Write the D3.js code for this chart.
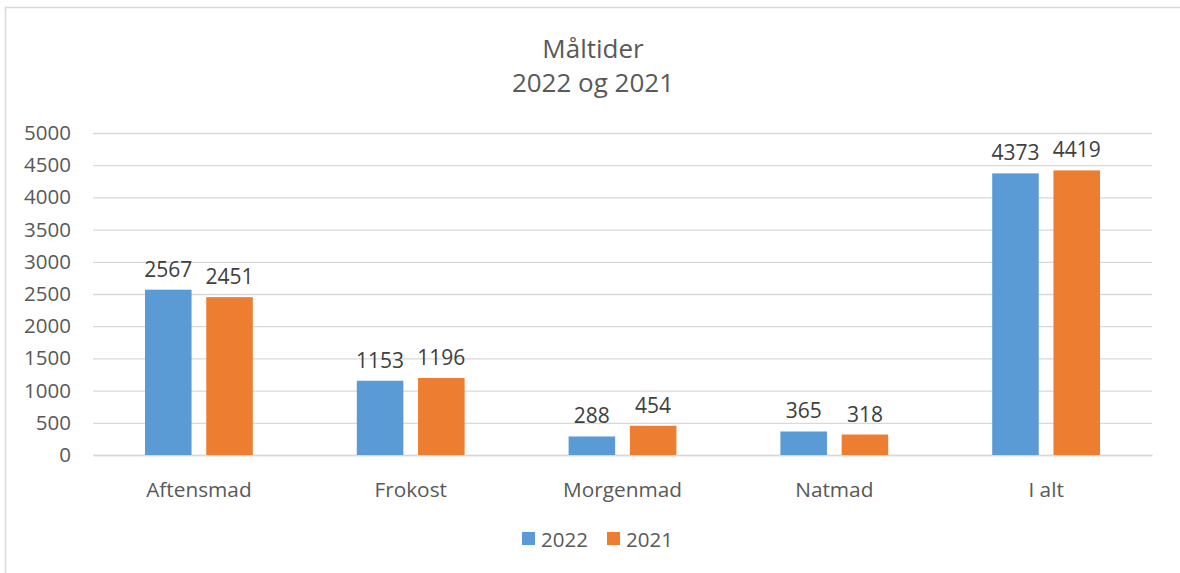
<!DOCTYPE html>
<html>
<head>
<meta charset="utf-8">
<script src="https://cdn.jsdelivr.net/npm/d3@7"></script>
<style>
  body { margin: 0; background: #fff; }
  text { font-family: "Open Sans", "Noto Sans", sans-serif; }
</style>
</head>
<body>
<div id="chart"></div>
<script>
// chart data
var categories = ["Aftensmad", "Frokost", "Morgenmad", "Natmad", "I alt"];
var seriesNames = ["2022", "2021"];
var values2022 = [2567, 1153, 288, 365, 4373];
var values2021 = [2451, 1196, 454, 318, 4419];
var yTicks = [0, 500, 1000, 1500, 2000, 2500, 3000, 3500, 4000, 4500, 5000];
var colors = ["#5b9bd5", "#ed7d31"];

var width = 1180, height = 573;
var plot = { left: 93, right: 1152, top: 133, bottom: 455 };

var svg = d3.select("#chart").append("svg")
    .attr("width", width)
    .attr("height", height);

// chart border
svg.append("rect")
    .attr("x", 5.5).attr("y", 7.5)
    .attr("width", width + 10).attr("height", height + 10)
    .attr("fill", "#fff")
    .attr("stroke", "#d9d9d9")
    .attr("stroke-width", 1.5);

// title
svg.append("text")
    .attr("x", 593).attr("y", 58)
    .attr("text-anchor", "middle")
    .attr("fill", "#595959")
    .attr("font-size", 26)
    .text("Måltider");
svg.append("text")
    .attr("x", 593).attr("y", 92)
    .attr("text-anchor", "middle")
    .attr("fill", "#595959")
    .attr("font-size", 26)
    .text("2022 og 2021");

var x = d3.scaleBand()
    .domain(categories)
    .range([plot.left, plot.right])
    .paddingInner(0)
    .paddingOuter(0);

var x1 = d3.scaleBand()
    .domain(seriesNames)
    .range([52, x.bandwidth() - 52])
    .paddingInner(0.24)
    .paddingOuter(0);

var y = d3.scaleLinear()
    .domain([0, 5000])
    .range([plot.bottom, plot.top]);

// gridlines and y tick labels
var yAxis = d3.axisLeft(y)
    .tickValues(yTicks)
    .tickFormat(d3.format("d"))
    .tickSize(-(plot.right - plot.left))
    .tickPadding(22);

var gy = svg.append("g")
    .attr("transform", "translate(" + plot.left + ",0)")
    .call(yAxis);
gy.select(".domain").remove();
gy.selectAll(".tick line").attr("stroke", "#d9d9d9").attr("stroke-width", 1.3);
gy.selectAll(".tick text")
    .attr("fill", "#595959")
    .attr("font-size", 20.5)
    .attr("font-family", "Open Sans, sans-serif");

// x axis labels
var xAxis = d3.axisBottom(x).tickSize(0).tickPadding(27);
var gx = svg.append("g")
    .attr("transform", "translate(0," + plot.bottom + ")")
    .call(xAxis);
gx.select(".domain").attr("stroke", "#d9d9d9").attr("stroke-width", 1.3);
gx.selectAll(".tick text")
    .attr("fill", "#595959")
    .attr("font-size", 20.8)
    .attr("font-family", "Open Sans, sans-serif");

// bars
var rows = categories.map(function(c, i) {
    return { cat: c, vals: [
        { key: "2022", value: values2022[i] },
        { key: "2021", value: values2021[i] }
    ] };
});

var groups = svg.selectAll("g.grp")
    .data(rows)
    .enter()
    .append("g")
    .attr("class", "grp")
    .attr("transform", function(d) { return "translate(" + x(d.cat) + ",0)"; });

groups.selectAll("rect")
    .data(function(d) { return d.vals; })
    .enter()
    .append("rect")
    .attr("x", function(d) { return x1(d.key); })
    .attr("y", function(d) { return y(d.value); })
    .attr("width", x1.bandwidth())
    .attr("height", function(d) { return y(0) - y(d.value); })
    .attr("fill", function(d, i) { return colors[i]; });

groups.selectAll("text.lbl")
    .data(function(d) { return d.vals; })
    .enter()
    .append("text")
    .attr("class", "lbl")
    .attr("x", function(d) { return x1(d.key) + x1.bandwidth() / 2; })
    .attr("y", function(d) { return y(d.value) - 13; })
    .attr("text-anchor", "middle")
    .attr("fill", "#404040")
    .attr("font-size", 21)
    .text(function(d) { return d.value; });

// legend
var legend = svg.append("g");
var legendX = [522, 607];
seriesNames.forEach(function(s, i) {
    legend.append("rect")
        .attr("x", legendX[i]).attr("y", 532)
        .attr("width", 13).attr("height", 13)
        .attr("fill", colors[i]);
    legend.append("text")
        .attr("x", legendX[i] + 19).attr("y", 547)
        .attr("fill", "#595959")
        .attr("font-size", 20.5)
        .text(s);
});
</script>
</body>
</html>
